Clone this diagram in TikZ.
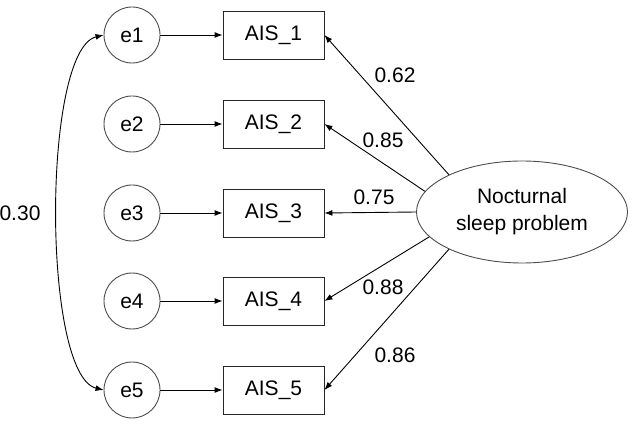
\documentclass[tikz,border=0pt]{standalone}
\usepackage{fontspec}
\setmainfont{Liberation Sans}
\usepackage{tikz}
\usetikzlibrary{positioning}
\usetikzlibrary{arrows.meta,shapes}
\tikzstyle{errvertex}=[circle,draw=black!70,line width=0.9pt,minimum size=56pt,inner sep=0pt]
\tikzstyle{itembox}=[rectangle,draw=black!85,line width=0.9pt,minimum width=101pt,minimum height=48pt,inner sep=0pt]
\tikzstyle{latent}=[ellipse,draw=black!70,line width=0.9pt,minimum width=211pt,minimum height=102pt,inner sep=0pt,align=center]
\tikzstyle{edge} = [draw,line width=0.9pt,-{Latex[length=8pt,width=6pt]}]
\tikzstyle{biedge} = [draw,line width=0.9pt,{Latex[length=8pt,width=6pt]}-{Latex[length=8pt,width=6pt]}]
\tikzstyle{weight} = [inner sep=0pt]

\begin{document}
\begin{tikzpicture}[x=1pt,y=-1pt,font=\fontsize{21}{27}\selectfont]
   \useasboundingbox (0,0) rectangle (632,430);

   % error terms and items
   \foreach \y/\i in {35/1, 124/2, 213/3, 301/4, 390/5}
   {
        \node[errvertex] (e\i) at (132,\y) {e\i};
        \node[itembox] (ais\i) at (273.5,\y) {AIS\_\i};
        \path[edge] (e\i) -- (ais\i);
   }

   \node[latent] (nsp) at (522,212) {Nocturnal\\sleep problem};

   % loadings
   \foreach \ang/\i/\pos/\weight in {153/1/{(395,75)}/0.62, 168/2/{(383,140)}/0.85, 180/3/{(374,197)}/0.75, 195/4/{(383,287)}/0.88, 207/5/{(395,355)}/0.86}
   {
        \path[edge] (nsp.\ang) -- (ais\i.east);
        \node[weight] (w\i) at \pos {\weight};
   }

   % correlated errors
   \path[biedge] (e5.west) .. controls (42,375) and (42,50) .. (e1.west);
   \node[weight] (w15) at (20,213) {0.30};
\end{tikzpicture}
\end{document}
